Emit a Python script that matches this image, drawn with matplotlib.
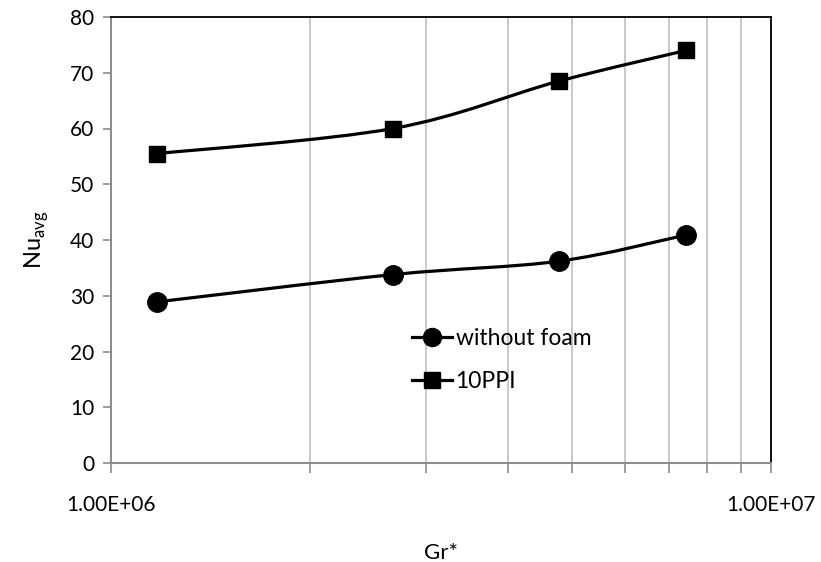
import numpy as np
import matplotlib
matplotlib.use("Agg")
import matplotlib.pyplot as plt
from matplotlib.path import Path
from matplotlib.patches import PathPatch
from matplotlib.ticker import FixedLocator, NullFormatter

plt.rcParams['font.family'] = ['Lato', 'DejaVu Sans']

gr = [1.174e6, 2.675e6, 4.773e6, 7.435e6]
nu_without = [28.9, 33.8, 36.2, 40.9]
nu_10ppi = [55.5, 60.0, 68.5, 74.0]
series_labels = ["without foam", "10PPI"]
xtick_vals = [1e6, 1e7]
xtick_labels = ["1.00E+06", "1.00E+07"]

fig = plt.figure(figsize=(8.21, 5.62), dpi=100)
ax = fig.add_axes([111/821, 1-463/562, 660/821, 446/562])
ax.set_xscale('log')
ax.set_xlim(1e6, 1e7)
ax.set_ylim(0, 80)


def smooth_path(xs, ys):
    lx = np.log10(xs)
    y = np.asarray(ys, float)
    n = len(lx)
    verts = [(xs[0], y[0])]
    codes = [Path.MOVETO]
    t = 1/6
    for i in range(n-1):
        p0 = (lx[i-1], y[i-1]) if i > 0 else (lx[i], y[i])
        p1 = (lx[i], y[i])
        p2 = (lx[i+1], y[i+1])
        p3 = (lx[i+2], y[i+2]) if i+2 < n else (lx[i+1], y[i+1])
        c1 = (p1[0] + (p2[0]-p0[0])*t, p1[1] + (p2[1]-p0[1])*t)
        c2 = (p2[0] - (p3[0]-p1[0])*t, p2[1] - (p3[1]-p1[1])*t)
        for c in (c1, c2, p2):
            verts.append((10**c[0], c[1]))
            codes.append(Path.CURVE4)
    return Path(verts, codes)


for ys in (nu_without, nu_10ppi):
    ax.add_patch(PathPatch(smooth_path(gr, ys), facecolor='none',
                           edgecolor='black', lw=2.3, zorder=3))

ax.plot(gr, nu_without, linestyle='none', marker='o', ms=14, color='black', zorder=4)
ax.plot(gr, nu_10ppi, linestyle='none', marker='s', ms=11.5, color='black', zorder=4)

# legend proxies
h1, = ax.plot([], [], '-o', color='black', lw=2.3, ms=13, label=series_labels[0])
h2, = ax.plot([], [], '-s', color='black', lw=2.3, ms=11, label=series_labels[1])
leg = ax.legend(handles=[h1, h2], loc='upper left', bbox_to_anchor=(0.456, 0.303),
                frameon=False, fontsize=16.5, handlelength=1.75, handletextpad=0.15,
                labelspacing=0.98, borderaxespad=0, borderpad=0)

ax.xaxis.set_major_locator(FixedLocator(xtick_vals))
ax.set_xticklabels(xtick_labels)
ax.xaxis.set_minor_locator(FixedLocator([k*1e6 for k in range(2, 10)]))
ax.xaxis.set_minor_formatter(NullFormatter())
ax.grid(True, which='both', axis='x', color='#c0c0c0', lw=1.2)
ax.set_yticks(range(0, 81, 10))

for s in ('left', 'bottom'):
    ax.spines[s].set_color('#8c8c8c')
    ax.spines[s].set_linewidth(1.5)
for s in ('top', 'right'):
    ax.spines[s].set_color('black')
    ax.spines[s].set_linewidth(1.3)

ax.tick_params(axis='both', which='both', direction='out', color='#8c8c8c',
               width=1.2, labelsize=15)
ax.tick_params(axis='x', which='major', length=7, pad=16)
ax.tick_params(axis='x', which='minor', length=7)
ax.tick_params(axis='y', length=6, pad=6)

ax.set_xlabel('Gr*', fontsize=16, labelpad=20)
ax.set_ylabel(r'Nu$_{\mathregular{avg}}$', fontsize=17, labelpad=14)

fig.savefig('out.png', dpi=100)
